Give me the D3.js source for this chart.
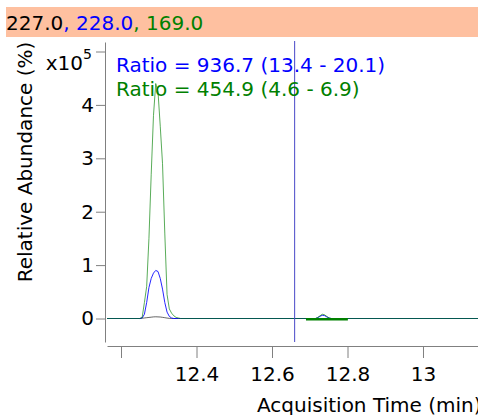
<!DOCTYPE html>
<html>
<head>
<meta charset="utf-8">
<script src="https://cdn.jsdelivr.net/npm/d3@7"></script>
<style>
  body { margin: 0; background: #fff; }
  svg { display: block; font-family: "DejaVu Sans", Verdana, sans-serif; }
</style>
</head>
<body>
<svg id="chart" width="478" height="415"></svg>
<script>
// retention times (min) and abundances (x10^5 %)
const times = [12.15, 12.250, 12.256, 12.262, 12.268, 12.274, 12.280, 12.286, 12.292, 12.298,
  12.304, 12.310, 12.316, 12.322, 12.328, 12.334, 12.340, 12.346, 12.352, 12.358,
  12.715, 12.721, 12.727, 12.733, 12.739, 12.745, 12.751, 12.757, 13.16];
const ion169 = [0, 0, 0.02, 0.3, 0.6, 1.5, 2.7, 3.8, 4.4, 4.25,
  3.6, 2.9, 1.6, 0.45, 0.18, 0.1, 0.05, 0.02, 0.01, 0,
  0, 0.02, 0.05, 0.08, 0.07, 0.04, 0.01, 0, 0];
const ion228 = [0, 0, 0.01, 0.08, 0.3, 0.58, 0.75, 0.85, 0.9, 0.88,
  0.75, 0.55, 0.3, 0.12, 0.04, 0.01, 0, 0, 0, 0,
  0, 0.015, 0.04, 0.06, 0.055, 0.03, 0.01, 0, 0];
const ion227 = [0, 0, 0.005, 0.01, 0.015, 0.02, 0.025, 0.03, 0.032, 0.03,
  0.028, 0.022, 0.015, 0.008, 0.003, 0, 0, 0, 0, 0,
  0, 0, 0, 0, 0, 0, 0, 0, 0];

const yTicks = [0, 1, 2, 3, 4, 5];
const yTickLabels = ["0", "1", "2", "3", "4", ""];
const xTicks = [12.2, 12.4, 12.6, 12.8, 13];
const xTickLabels = ["", "12.4", "12.6", "12.8", "13"];
const ionLabels = ["227.0", "228.0", "169.0"];
const ratioLines = ["Ratio = 936.7 (13.4 - 20.1)", "Ratio = 454.9 (4.6 - 6.9)"];
const cursorTime = 12.66;
const integrationRange = [12.69, 12.801];

const colors = ["#000000", "#0000ff", "#008000"];
const fs = 20;

const svg = d3.select("#chart");

const x = d3.scaleLinear().domain([12.1629, 13.1457]).range([107, 478]);
const y = d3.scaleLinear().domain([-0.44, 5.178]).range([342, 42]);

// header bar
svg.append("rect").attr("x", 6).attr("y", 7).attr("width", 472).attr("height", 30)
  .attr("fill", "#fec0a0");
const head = svg.append("text").attr("x", 6).attr("y", 30).attr("font-size", fs);
ionLabels.forEach((t, i) => {
  head.append("tspan").attr("fill", colors[i]).text(t);
  if (i < ionLabels.length - 1) head.append("tspan").attr("fill", colors[i + 1]).text(", ");
});

// axes
const yAxis = svg.append("g").attr("transform", "translate(105,0)")
  .call(d3.axisLeft(y).tickValues(yTicks).tickSize(9).tickSizeOuter(0).tickPadding(2)
    .tickFormat((d, i) => yTickLabels[i]));
const xAxis = svg.append("g").attr("transform", "translate(0,346)")
  .call(d3.axisBottom(x).tickValues(xTicks).tickSize(12).tickSizeOuter(0).tickPadding(9)
    .tickFormat((d, i) => xTickLabels[i]));
[yAxis, xAxis].forEach(a => {
  a.attr("font-family", null).attr("font-size", fs);
  a.select(".domain").attr("stroke", "#808080");
  a.selectAll(".tick line").attr("stroke", "#808080");
  a.selectAll(".tick text").attr("fill", "#000");
});

// x10^5 multiplier
svg.append("text").attr("x", 83).attr("y", 70).attr("text-anchor", "end")
  .attr("font-size", fs).text("x10");
svg.append("text").attr("x", 83).attr("y", 59).attr("font-size", 14).text("5");

// axis titles
svg.append("text").attr("transform", "translate(32,162) rotate(-90)")
  .attr("text-anchor", "middle").attr("font-size", fs).text("Relative Abundance (%)");
svg.append("text").attr("x", 257).attr("y", 412).attr("font-size", fs)
  .text("Acquisition Time (min)");

// traces
svg.append("clipPath").attr("id", "plot-clip").append("rect")
  .attr("x", 107).attr("y", 42).attr("width", 371).attr("height", 300);
const plot = svg.append("g").attr("clip-path", "url(#plot-clip)");

const line = d3.line().x(d => x(d[0])).y(d => y(d[1]));
[ion227, ion228, ion169].forEach((vals, i) => {
  plot.append("path")
    .datum(times.map((t, j) => [t, vals[j]]))
    .attr("d", line)
    .attr("fill", "none")
    .attr("stroke", colors[i])
    .attr("stroke-opacity", i === 0 ? 0.6 : (i === 2 ? 0.65 : 0.85))
    .attr("stroke-width", 1);
});

// integration baseline of the small peak
plot.append("line")
  .attr("x1", x(integrationRange[0])).attr("x2", x(integrationRange[1]))
  .attr("y1", y(-0.015)).attr("y2", y(-0.015))
  .attr("stroke", "#008000").attr("stroke-width", 2.5);

// cursor line
svg.append("line")
  .attr("x1", x(cursorTime)).attr("x2", x(cursorTime))
  .attr("y1", 41).attr("y2", 342)
  .attr("stroke", "#4848c8").attr("stroke-width", 1);

// ratio annotations
ratioLines.forEach((t, i) => {
  svg.append("text").attr("x", 116).attr("y", 72 + i * 24)
    .attr("font-size", fs).attr("fill", colors[i + 1]).text(t);
});
</script>
</body>
</html>
